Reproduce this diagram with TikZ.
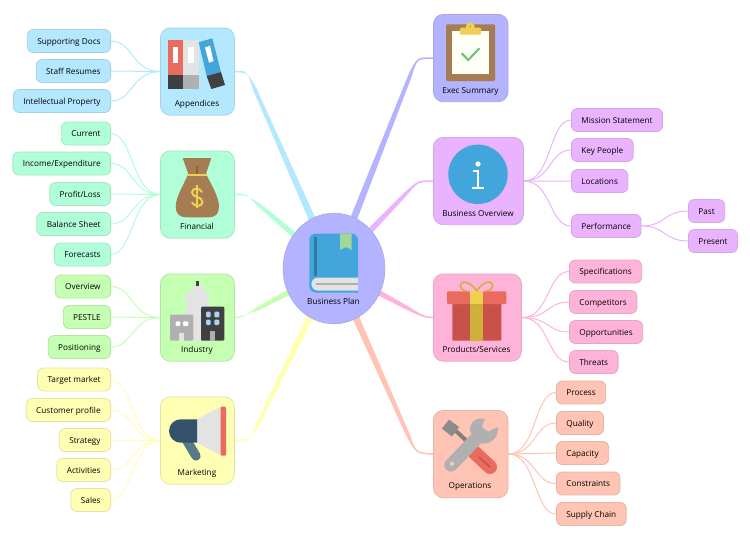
\documentclass[tikz,border=0pt]{standalone}
\usepackage{fontspec}
\setmainfont{Open Sans}
\usetikzlibrary{calc,backgrounds,shapes.geometric}

\definecolor{skyc}{HTML}{B3E8FF}
\definecolor{mintc}{HTML}{B0FFD8}
\definecolor{limec}{HTML}{C4FFB2}
\definecolor{lemonc}{HTML}{FFFFB3}
\definecolor{violetc}{HTML}{B3B3FF}
\definecolor{lilacc}{HTML}{E9B3FF}
\definecolor{pinkc}{HTML}{FFB3D9}
\definecolor{peachc}{HTML}{FFC4B3}
\definecolor{redi}{HTML}{E96B5E}
\definecolor{darkredi}{HTML}{C8524A}
\definecolor{darki}{HTML}{404040}
\definecolor{grayi}{HTML}{B0B0B0}
\definecolor{lighti}{HTML}{E3E3E3}
\definecolor{bluei}{HTML}{42A5DC}
\definecolor{browni}{HTML}{A67C52}
\definecolor{yellowi}{HTML}{F0D050}
\definecolor{goldi}{HTML}{D0B03C}
\definecolor{greeni}{HTML}{A0D89A}
\definecolor{checki}{HTML}{66C36E}
\definecolor{windowi}{HTML}{A8D4F5}
\definecolor{navyi}{HTML}{34526A}
\definecolor{slatei}{HTML}{577A8A}

\tikzset{
  mainbox/.style={draw=#1!78!gray, fill=#1, rounded corners=7.5, anchor=north west, inner sep=0pt, line width=0.6pt},
  leafbox/.style={draw=#1!78!gray, fill=#1, rounded corners=4.5, minimum height=17.25pt, inner xsep=7.5pt, inner ysep=0pt, text height=5.7pt, text depth=0.6pt, line width=0.6pt, font=\fontsize{6.15}{8}\selectfont},
  caption/.style={font=\fontsize{6.15}{8}\selectfont, inner sep=0pt, text height=5.7pt, text depth=0.6pt},
  twig/.style={draw=#1, line width=0.75pt},
}
% one tapered branch: colour, node, side of the node, corner on its level
\newcommand{\trunk}[4]{
  \fill[#1] ($(#2.#3)+(0,0.8)$) .. controls ($(#4)+(0,0.8)$) .. ($(#4)!14pt!(root)!1.4pt!90:(root)$)
    -- ($(root)!3pt!-90:(#4)$) -- ($(root)!3pt!90:(#4)$)
    -- ($(#4)!14pt!(root)!1.4pt!-90:(root)$) .. controls ($(#4)+(0,-0.8)$) .. ($(#2.#3)+(0,-0.8)$) -- cycle;
}

\begin{document}
\begin{tikzpicture}[x=0.75pt, y=-0.75pt]
    \useasboundingbox (0,0) rectangle (750,539);

    % We start by placing the root and the main boxes
    \node [draw=violetc!78!gray, fill=violetc, ellipse, minimum width=76.5pt, minimum height=83pt, inner sep=0pt] (root) at (334,268.5) {};
    \node [mainbox=skyc, minimum width=55.5pt, minimum height=65.5pt] (appendices) at (160,27.5) {};
    \node [mainbox=mintc, minimum width=55.5pt, minimum height=65.5pt] (financial) at (160,150.5) {};
    \node [mainbox=limec, minimum width=55.5pt, minimum height=65.5pt] (industry) at (160,273.5) {};
    \node [mainbox=lemonc, minimum width=55.5pt, minimum height=65.5pt] (marketing) at (160,396.5) {};
    \node [mainbox=violetc, minimum width=56pt, minimum height=65.5pt] (summary) at (433,14) {};
    \node [mainbox=lilacc, minimum width=67.5pt, minimum height=65.5pt] (overview) at (433,137) {};
    \node [mainbox=pinkc, minimum width=66pt, minimum height=65.5pt] (products) at (433,273.5) {};
    \node [mainbox=peachc, minimum width=56pt, minimum height=65.5pt] (operations) at (433,410) {};

    % Captions
    \node [caption] (roottext) at (333.5,301.5) {Business Plan};
    \node [caption] (appendicestext) at (197,103.5) {Appendices};
    \node [caption] (financialtext) at (197,226.5) {Financial};
    \node [caption] (industrytext) at (197,349.5) {Industry};
    \node [caption] (marketingtext) at (197,472.5) {Marketing};
    \node [caption] (summarytext) at (470.5,90) {Exec Summary};
    \node [caption] (overviewtext) at (478,213) {Business Overview};
    \node [caption] (productstext) at (476.5,349.5) {Products/Services};
    \node [caption] (operationstext) at (470,485.5) {Operations};

    % Leaves on the left
    \node [leafbox=skyc, anchor=east] (docs) at (111,41) {Supporting Docs};
    \node [leafbox=skyc, anchor=east] (resumes) at (111,71) {Staff Resumes};
    \node [leafbox=skyc, anchor=east] (property) at (111,101) {Intellectual Property};
    \node [leafbox=mintc, anchor=east] (current) at (111,133.5) {Current};
    \node [leafbox=mintc, anchor=east] (income) at (111,163.5) {Income/Expenditure};
    \node [leafbox=mintc, anchor=east] (profit) at (111,194) {Profit/Loss};
    \node [leafbox=mintc, anchor=east] (balance) at (111,224) {Balance Sheet};
    \node [leafbox=mintc, anchor=east] (forecasts) at (111,254.5) {Forecasts};
    \node [leafbox=limec, anchor=east] (view) at (111,286.5) {Overview};
    \node [leafbox=limec, anchor=east] (pestle) at (111,317) {PESTLE};
    \node [leafbox=limec, anchor=east] (positioning) at (111,347) {Positioning};
    \node [leafbox=lemonc, anchor=east] (target) at (111,379.5) {Target market};
    \node [leafbox=lemonc, anchor=east] (customer) at (111,410) {Customer profile};
    \node [leafbox=lemonc, anchor=east] (strategy) at (111,440) {Strategy};
    \node [leafbox=lemonc, anchor=east] (activities) at (111,470) {Activities};
    \node [leafbox=lemonc, anchor=east] (sales) at (111,500) {Sales};

    % Leaves on the right
    \node [leafbox=lilacc, anchor=west] (mission) at (571,120) {Mission Statement};
    \node [leafbox=lilacc, anchor=west] (people) at (571,150) {Key People};
    \node [leafbox=lilacc, anchor=west] (locations) at (571,181) {Locations};
    \node [leafbox=lilacc, anchor=west] (performance) at (571,226) {Performance};
    \node [leafbox=lilacc, anchor=west] (past) at (688,211) {Past};
    \node [leafbox=lilacc, anchor=west] (present) at (688,241) {Present};
    \node [leafbox=pinkc, anchor=west] (specs) at (569,271.5) {Specifications};
    \node [leafbox=pinkc, anchor=west] (competitors) at (569,302) {Competitors};
    \node [leafbox=pinkc, anchor=west] (opportunities) at (569,332) {Opportunities};
    \node [leafbox=pinkc, anchor=west] (threats) at (569,362) {Threats};
    \node [leafbox=peachc, anchor=west] (process) at (556,392.5) {Process};
    \node [leafbox=peachc, anchor=west] (quality) at (556,423) {Quality};
    \node [leafbox=peachc, anchor=west] (capacity) at (556,453) {Capacity};
    \node [leafbox=peachc, anchor=west] (constraints) at (556,483.5) {Constraints};
    \node [leafbox=peachc, anchor=west] (chain) at (556,514) {Supply Chain};

    % Once the nodes are placed, the connectors go behind them
    \begin{scope}[on background layer]
    \trunk{skyc}{appendices}{east}{247,71.5}
    \trunk{mintc}{financial}{east}{246,194}
    \trunk{limec}{industry}{east}{242,317}
    \trunk{lemonc}{marketing}{east}{250,440}
    \trunk{violetc}{summary}{west}{417,58}
    \trunk{lilacc}{overview}{west}{418,181}
    \trunk{pinkc}{products}{west}{424,317}
    \trunk{peachc}{operations}{west}{416,453}

    \draw [twig=skyc] (appendices.west) .. controls +(-28,0) and +(22,0) .. (docs.east);
    \draw [twig=skyc] (appendices.west) -- (resumes.east);
    \draw [twig=skyc] (appendices.west) .. controls +(-28,0) and +(22,0) .. (property.east);
    \draw [twig=mintc] (financial.west) .. controls +(-28,0) and +(22,0) .. (current.east);
    \draw [twig=mintc] (financial.west) .. controls +(-28,0) and +(22,0) .. (income.east);
    \draw [twig=mintc] (financial.west) -- (profit.east);
    \draw [twig=mintc] (financial.west) .. controls +(-28,0) and +(22,0) .. (balance.east);
    \draw [twig=mintc] (financial.west) .. controls +(-28,0) and +(22,0) .. (forecasts.east);
    \draw [twig=limec] (industry.west) .. controls +(-28,0) and +(22,0) .. (view.east);
    \draw [twig=limec] (industry.west) -- (pestle.east);
    \draw [twig=limec] (industry.west) .. controls +(-28,0) and +(22,0) .. (positioning.east);
    \draw [twig=lemonc] (marketing.west) .. controls +(-28,0) and +(22,0) .. (target.east);
    \draw [twig=lemonc] (marketing.west) .. controls +(-28,0) and +(22,0) .. (customer.east);
    \draw [twig=lemonc] (marketing.west) -- (strategy.east);
    \draw [twig=lemonc] (marketing.west) .. controls +(-28,0) and +(22,0) .. (activities.east);
    \draw [twig=lemonc] (marketing.west) .. controls +(-28,0) and +(22,0) .. (sales.east);

    \draw [twig=lilacc] (overview.east) .. controls +(28,0) and +(-22,0) .. (mission.west);
    \draw [twig=lilacc] (overview.east) .. controls +(28,0) and +(-22,0) .. (people.west);
    \draw [twig=lilacc] (overview.east) -- (locations.west);
    \draw [twig=lilacc] (overview.east) .. controls +(28,0) and +(-22,0) .. (performance.west);
    \draw [twig=lilacc] (performance.east) .. controls +(24,0) and +(-24,0) .. (past.west);
    \draw [twig=lilacc] (performance.east) .. controls +(24,0) and +(-24,0) .. (present.west);
    \draw [twig=pinkc] (products.east) .. controls +(28,0) and +(-22,0) .. (specs.west);
    \draw [twig=pinkc] (products.east) .. controls +(28,0) and +(-22,0) .. (competitors.west);
    \draw [twig=pinkc] (products.east) .. controls +(28,0) and +(-22,0) .. (opportunities.west);
    \draw [twig=pinkc] (products.east) .. controls +(28,0) and +(-22,0) .. (threats.west);
    \draw [twig=peachc] (operations.east) .. controls +(28,0) and +(-22,0) .. (process.west);
    \draw [twig=peachc] (operations.east) .. controls +(28,0) and +(-22,0) .. (quality.west);
    \draw [twig=peachc] (operations.east) -- (capacity.west);
    \draw [twig=peachc] (operations.east) .. controls +(28,0) and +(-22,0) .. (constraints.west);
    \draw [twig=peachc] (operations.east) .. controls +(28,0) and +(-22,0) .. (chain.west);
    \end{scope}

    % Icon of the root: a book
    \fill [bluei, rounded corners=5] (309.3,292.5) -- (309.3,233.5) -- (358,233.5) [sharp corners] -- (358,292.5) -- (318,292.5) [rounded corners=5] -- cycle;
    \fill [bluei!75!black] (314.3,237) rectangle (317,276);
    \fill [lighti] (358,277.5) -- (318,277.5) arc[start angle=-90, end angle=-270, radius=6.6] -- (358,290.7) -- cycle;
    \draw [grayi, line width=1.4pt] (316,284) -- (358,284);
    \fill [greeni] (340,233.5) -- (351.7,233.5) -- (351.7,250) -- (346,247) -- (340,250) -- cycle;

    % Appendices
    \fill [redi] (167.5,40) rectangle (183,75);
    \fill [darki] (167.5,75) rectangle (183,89);
    \fill [white] (172.5,46.5) rectangle (178,63);
    \fill [lighti] (183,40) rectangle (198.5,75);
    \fill [grayi] (183,75) rectangle (198.5,89);
    \fill [white] (188.3,46.5) rectangle (193.7,63);
    \fill [bluei] (198.7,42.3) -- (212.3,38.3) -- (221,72) -- (206.7,76) -- cycle;
    \fill [darki] (206.7,76) -- (221,72) -- (225,85) -- (211.3,89) -- cycle;
    \fill [white] (205,47.5) -- (210,45.7) -- (213.5,61) -- (209,62.7) -- cycle;

    % Financial
    \fill [browni] (182.7,158) -- (211.3,158) -- (206,174) .. controls (212,186) and (219,197) .. (219,207) .. controls (219,214) and (215,217.3) .. (209,217.3) -- (186,217.3) .. controls (180,217.3) and (175.7,214) .. (175.7,207) .. controls (175.7,197) and (183,186) .. (188.3,174) -- cycle;
    \fill [browni!80!black] (195.8,165.7) rectangle (198.2,174);
    \fill [yellowi] (187,173.5) rectangle (207.3,176);
    \draw [yellowi, line width=1.5pt, line cap=round] (202,192) .. controls (200,187.5) and (192,187.5) .. (192,192.5) .. controls (192,198) and (202.5,196) .. (202.5,202) .. controls (202.5,207) and (194,207) .. (192,202.5);
    \draw [yellowi, line width=1.5pt, line cap=round] (197,185.5) -- (197,207.5);

    % Industry
    \fill [lighti] (185.7,293.3) rectangle (209,340.7);
    \fill [lighti] (190.7,286) rectangle (203.7,294);
    \fill [darki] (196,281) rectangle (198.7,286);
    \fill [grayi, rounded corners=0.8] (170,314.7) rectangle (193.3,340.7);
    \fill [white, rounded corners=0.8] (175.7,321.3) rectangle (180.3,326);
    \fill [white, rounded corners=0.8] (183,321.3) rectangle (188.3,326);
    \fill [lighti] (179,332.7) rectangle (184.3,340.7);
    \fill [darki, rounded corners=0.8] (201,306.7) rectangle (224.3,340.7);
    \fill [windowi, rounded corners=0.8] (206,311.7) rectangle (210.7,317.3);
    \fill [windowi, rounded corners=0.8] (214.3,311.7) rectangle (219.3,317.3);
    \fill [windowi, rounded corners=0.8] (206,319.7) rectangle (210.7,325);
    \fill [windowi, rounded corners=0.8] (214.3,319.7) rectangle (219.3,325);
    \fill [grayi] (210,331.3) rectangle (215,340.7);

    % Marketing
    \draw [slatei, line width=7pt, line cap=round] (187,441) -- (196,456);
    \fill [lighti] (197,419.3) -- (221,406.7) -- (221,455.7) -- (197,442.7) -- cycle;
    \fill [navyi] (197,419.3) -- (180.7,419.3) arc[start angle=-90, end angle=-270, radius=11.7] -- (197,442.7) -- cycle;
    \fill [redi, rounded corners=0.8] (220.7,406.7) rectangle (226,455.7);

    % Exec summary
    \fill [browni, rounded corners=0.8] (446,24.3) rectangle (495,81);
    \fill [white!97!yellow] (452.3,31) rectangle (489,74.3);
    \fill [yellowi] (470.3,26.7) circle (4.5);
    \fill [yellowi, rounded corners=0.8] (460,27.7) rectangle (481,34.7);
    \fill [browni] (470.3,26.7) circle (0.7);
    \draw [checki, line width=1.5pt] (461.7,53.3) -- (468.3,60) -- (479.3,48.3);

    % Business overview
    \fill [bluei] (478,174.3) circle (29.7);
    \fill [white] (478,164) circle (2.7);
    \draw [white, line width=1.4pt] (473.3,170.7) -- (478,170.7) -- (478,188.3);
    \draw [white, line width=1.4pt] (471.7,188.3) -- (484.3,188.3);

    % Products
    \fill [darkredi, rounded corners=0.8] (452.3,303) rectangle (501.3,340.7);
    \fill [goldi] (470.3,303) rectangle (483.3,340.7);
    \fill [redi, rounded corners=0.8] (447,291.3) rectangle (506.3,304);
    \fill [yellowi] (470.3,291.3) rectangle (483.3,304);
    \draw [goldi, line width=1.2pt] (476.7,291) .. controls (470,281) and (461,280) .. (460.5,285) .. controls (460,289) and (464,291) .. (467,291);
    \draw [goldi, line width=1.2pt] (476.7,291) .. controls (483,281) and (492,280) .. (492.5,285) .. controls (493,289) and (489,291) .. (486,291);

    % Operations
    \fill [gray!90!white] (442,428.5) -- (449,419.5) -- (459,427) -- (452,436.5) -- cycle;
    \draw [gray, line width=3pt] (456,431) -- (472,446);
    \draw [redi, line width=10.5pt, line cap=round] (474,452) -- (490,467);
    \draw [darkredi, line width=1.1pt, line cap=round] (479,457) -- (490,467);
    \draw [grayi, line width=10pt, line cap=round] (451,465) -- (477,438);
    \fill [grayi] (485,419.3) -- (481.7,426.7) -- (488.3,431.7) -- (497.7,427) .. controls (499,437) and (492,444) .. (482,443.5) -- (470,432) .. controls (469,423) and (476,416) .. (485,419.3) -- cycle;
    \fill [peachc] (452,463.7) circle (2.2);
\end{tikzpicture}
\end{document}
